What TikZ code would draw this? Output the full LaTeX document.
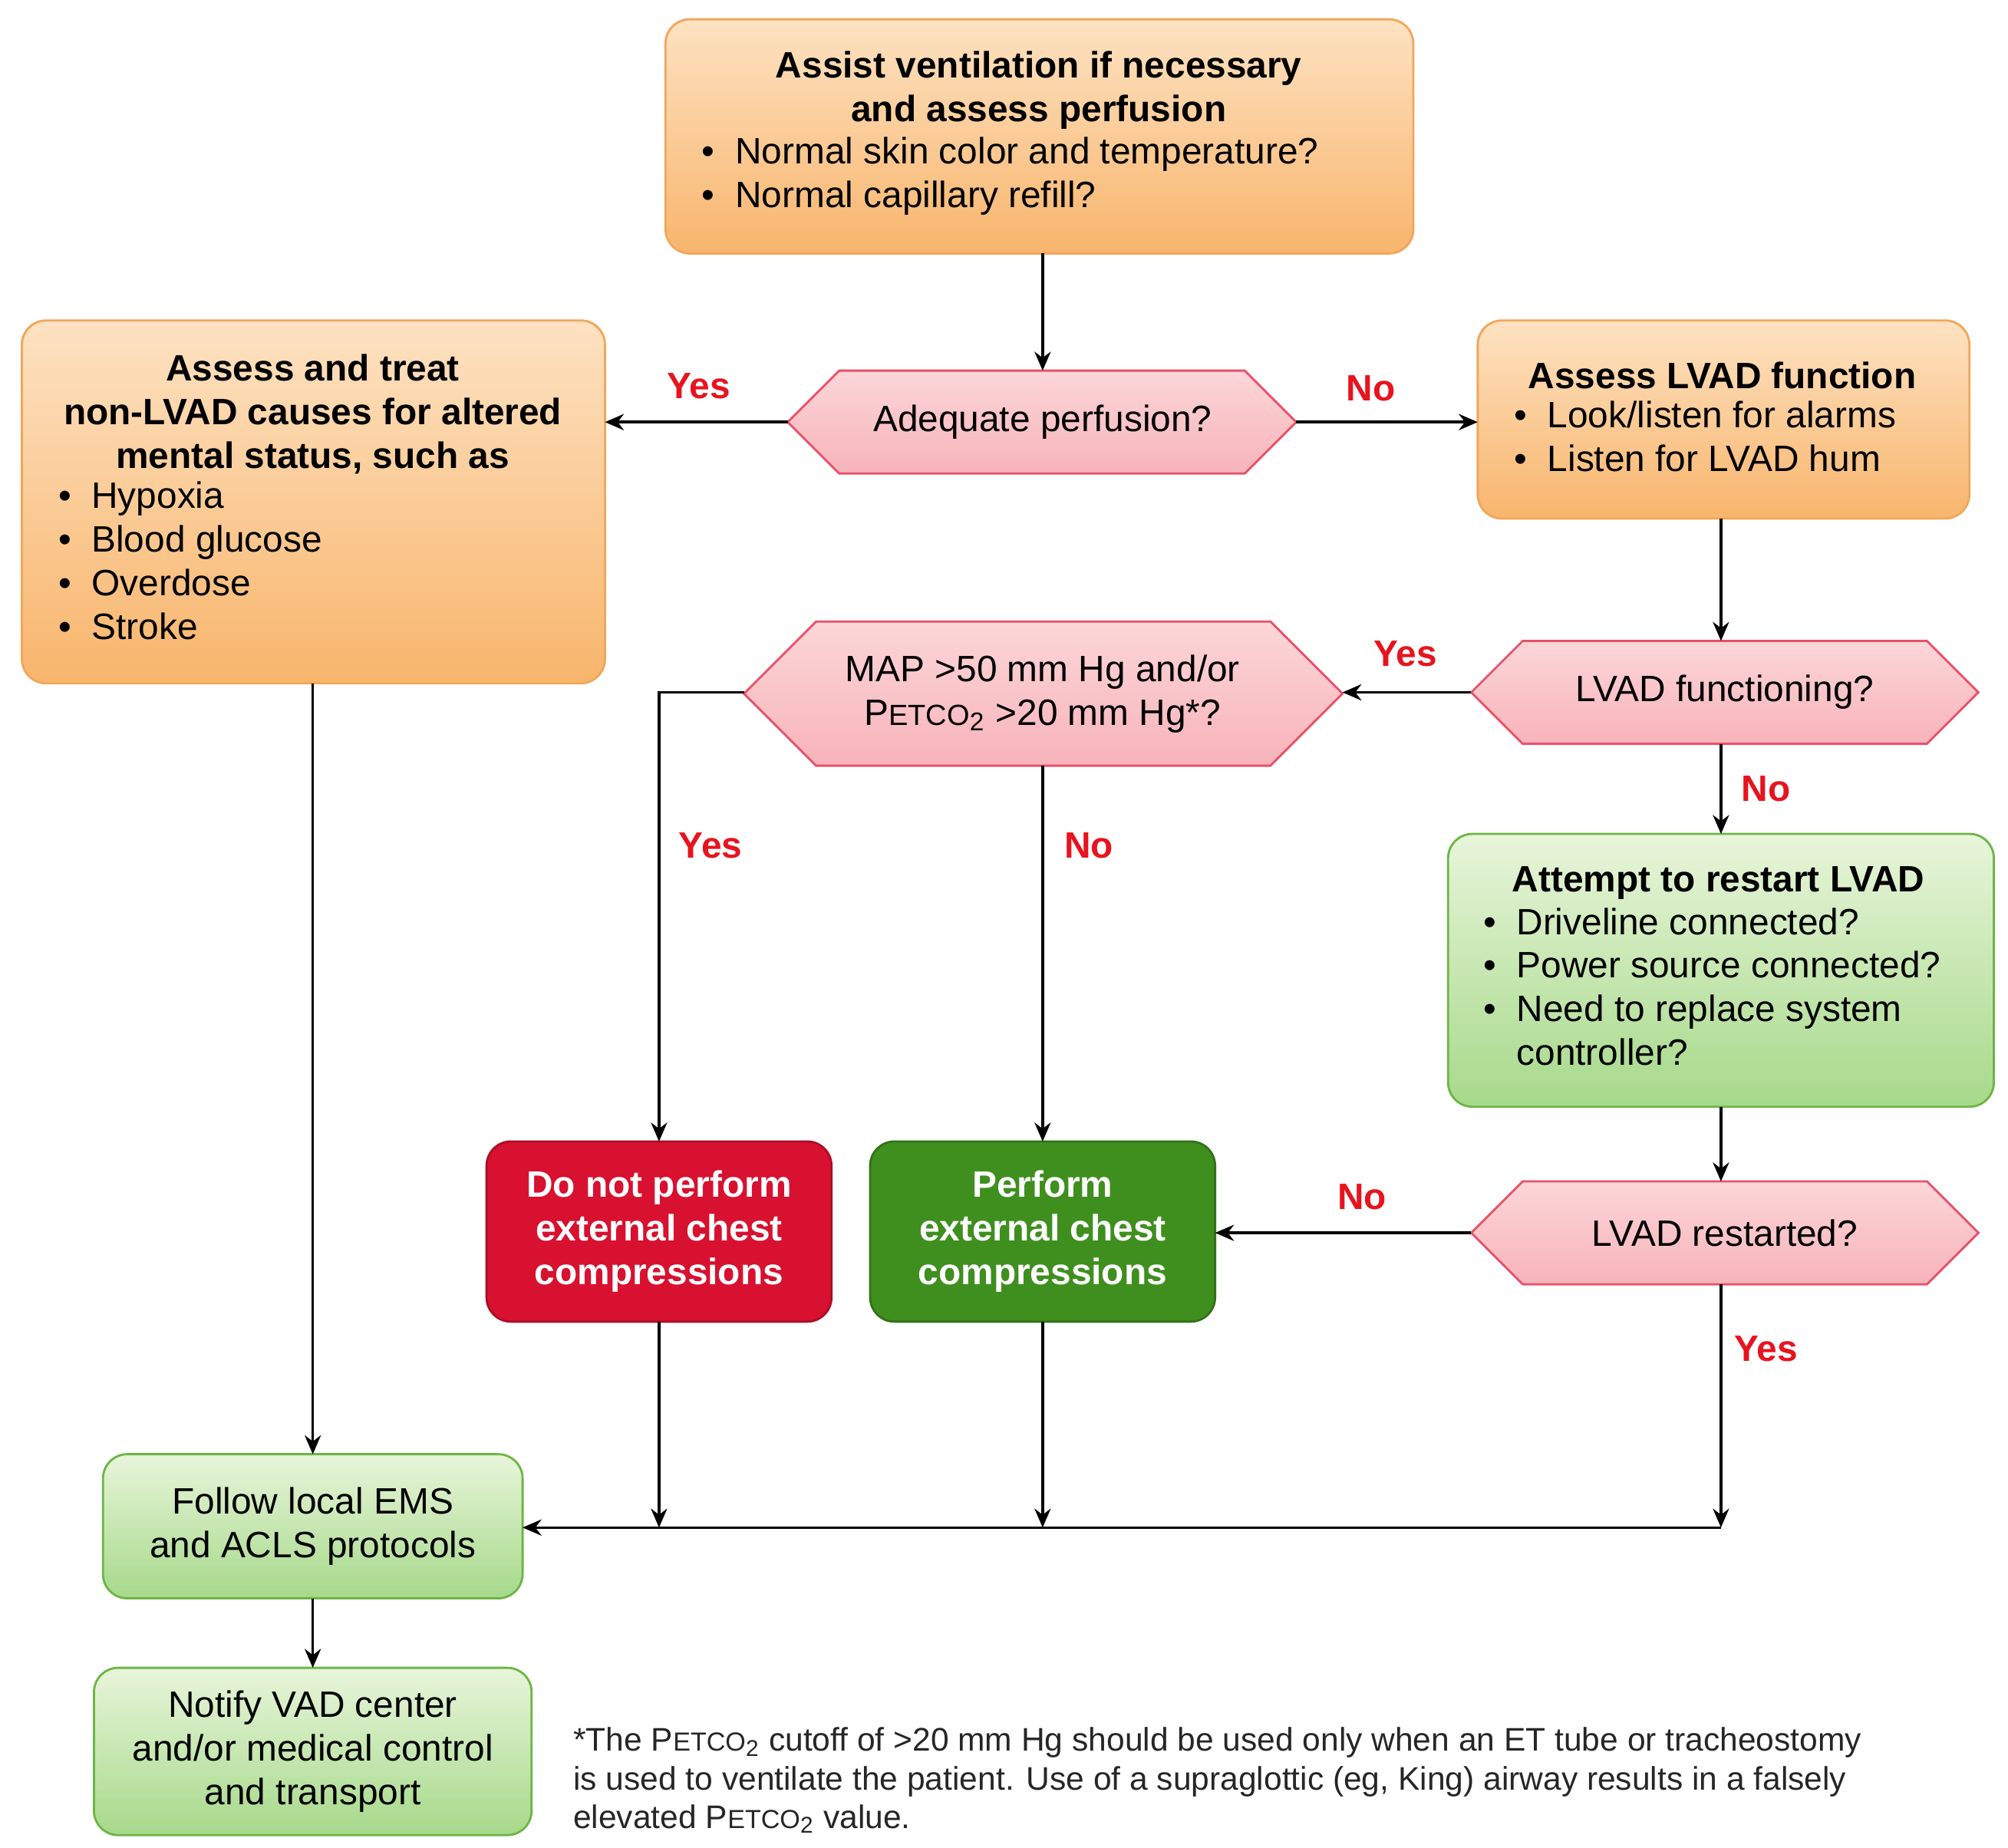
\documentclass[tikz,border=0pt]{standalone}
\usepackage{fontspec}
\setmainfont{Liberation Sans}
\usetikzlibrary{arrows.meta}
\definecolor{ornT}{HTML}{FDE2C2}\definecolor{ornB}{HTML}{F8B56C}\definecolor{ornD}{HTML}{F2A65A}
\definecolor{pkT}{HTML}{FCD6D8}\definecolor{pkB}{HTML}{F7B3BA}\definecolor{pkD}{HTML}{E8506A}
\definecolor{gnT}{HTML}{E8F5DA}\definecolor{gnB}{HTML}{A6D98A}\definecolor{gnD}{HTML}{6DB545}
\definecolor{redbox}{HTML}{D7112F}\definecolor{dgreen}{HTML}{3F8F1F}\definecolor{lab}{HTML}{E8131E}
\newcommand{\petco}{P{\fontsize{10.8}{12}\selectfont ETCO}\textsubscript{2}}
\newcommand{\petcos}{P{\fontsize{9.7}{11}\selectfont ETCO}\textsubscript{2}}
\begin{document}
\begin{tikzpicture}[x=0.016776cm,y=-0.016776cm,
  every node/.style={font=\fontsize{13.6}{16.2}\selectfont, inner sep=0pt},
  bf/.style={font=\fontsize{13.6}{16.2}\selectfont\bfseries},
  obox/.style={draw=ornD, line width=0.8pt, rounded corners=9pt, top color=ornT, bottom color=ornB},
  gbox/.style={draw=gnD, line width=0.8pt, rounded corners=9pt, top color=gnT, bottom color=gnB},
  hex/.style={draw=pkD, line width=0.8pt, top color=pkT, bottom color=pkB},
  arr/.style={-{Stealth[length=7pt,width=6pt]}, line width=1pt},
  lbl/.style={text=lab, font=\fontsize{13.6}{16}\selectfont\bfseries}]
\useasboundingbox (0,0) rectangle (1560,1436);
% boxes
\draw[obox] (517,15) rectangle (1098,197);
\node[align=center,bf] (t1) at (807,70) {Assist ventilation if necessary\\and assess perfusion};
\node[align=left,anchor=north west] (t1b) at (545,106) {\textbullet\ \ Normal skin color and temperature?\\\textbullet\ \ Normal capillary refill?};
\coordinate (top) at (810,197);
\draw[obox] (17,249) rectangle (470,531);
\node[align=center,bf] (l1) at (243,322) {Assess and treat\\non-LVAD causes for altered\\mental status, such as};
\node[align=left,anchor=north west] (l1b) at (45,374) {\textbullet\ \ Hypoxia\\\textbullet\ \ Blood glucose\\\textbullet\ \ Overdose\\\textbullet\ \ Stroke};
\draw[obox] (1148,249) rectangle (1530,403);
\node[bf] (r1) at (1338,292) {Assess LVAD function};
\node[align=left,anchor=north west] (r1b) at (1176,311) {\textbullet\ \ Look/listen for alarms\\\textbullet\ \ Listen for LVAD hum};
\draw[gbox] (1125,648) rectangle (1549,860);
\node[bf] (g1) at (1335,686) {Attempt to restart LVAD};
\node[align=left,anchor=north west] (g1b) at (1152,705) {\textbullet\ \ Driveline connected?\\\textbullet\ \ Power source connected?\\\textbullet\ \ Need to replace system\\\phantom{\textbullet\ \ }controller?};
\draw[line width=0.8pt, draw=redbox!80!black, fill=redbox, rounded corners=9pt] (378,887) rectangle (646,1027);
\node[align=center,text=white,bf] (dn) at (512,957) {Do not perform\\external chest\\compressions};
\draw[line width=0.8pt, draw=dgreen!80!black, fill=dgreen, rounded corners=9pt] (676,887) rectangle (944,1027);
\node[align=center,text=white,bf] (pf) at (810,957) {Perform\\external chest\\compressions};
\draw[gbox] (80,1130) rectangle (406,1242);
\node[align=center] (fl) at (243,1186) {Follow local EMS\\and ACLS protocols};
\draw[gbox] (73,1296) rectangle (413,1426);
\node[align=center] (nt) at (243,1361) {Notify VAD center\\and/or medical control\\and transport};
% hexagons
\draw[hex] (612,328) -- (652,288) -- (967,288) -- (1007,328) -- (967,368) -- (652,368) -- cycle;
\node (d1) at (810,328) {Adequate perfusion?};
\draw[hex] (578,539) -- (634,483) -- (987,483) -- (1043,539) -- (987,595) -- (634,595) -- cycle;
\node[align=center] (d2) at (810,539) {MAP >50 mm Hg and/or\\\petco\ >20 mm Hg*?};
\draw[hex] (1143,538) -- (1183,498) -- (1497,498) -- (1537,538) -- (1497,578) -- (1183,578) -- cycle;
\node (d3) at (1340,538) {LVAD functioning?};
\draw[hex] (1143,958) -- (1183,918) -- (1497,918) -- (1537,958) -- (1497,998) -- (1183,998) -- cycle;
\node (d4) at (1340,958) {LVAD restarted?};
% connectors
\coordinate (a1) at (810,288);
\draw[arr] (top) -- (a1);
\coordinate (y1s) at (612,328); \coordinate (y1e) at (470,328);
\draw[arr] (y1s) -- (y1e); \node[lbl] (ly1) at (543,300) {Yes};
\coordinate (n1s) at (1007,328); \coordinate (n1e) at (1148,328);
\draw[arr] (n1s) -- (n1e); \node[lbl] (ln1) at (1065,302) {No};
\coordinate (r1s) at (1337,403); \coordinate (r1e) at (1337,498);
\draw[arr] (r1s) -- (r1e);
\coordinate (y2s) at (1143,538); \coordinate (y2e) at (1043,538);
\draw[arr] (y2s) -- (y2e); \node[lbl] (ly2) at (1092,508) {Yes};
\coordinate (n2s) at (1337,578); \coordinate (n2e) at (1337,648);
\draw[arr] (n2s) -- (n2e); \node[lbl] (ln2) at (1372,613) {No};
\coordinate (y3s) at (578,538); \coordinate (y3e) at (512,887);
\draw[arr] (y3s) -| (y3e); \node[lbl] (ly3) at (552,657) {Yes};
\coordinate (n3s) at (810,595); \coordinate (n3e) at (810,887);
\draw[arr] (n3s) -- (n3e); \node[lbl] (ln3) at (846,657) {No};
\coordinate (g1s) at (1337,860); \coordinate (g1e) at (1337,918);
\draw[arr] (g1s) -- (g1e);
\coordinate (n4s) at (1143,958); \coordinate (n4e) at (944,958);
\draw[arr] (n4s) -- (n4e); \node[lbl] (ln4) at (1058,930) {No};
\coordinate (y4s) at (1337,998); \coordinate (j3) at (1337,1187);
\draw[arr] (y4s) -- (j3); \node[lbl] (ly4) at (1372,1048) {Yes};
\coordinate (j1) at (512,1187); \coordinate (j2) at (810,1187);
\coordinate (dnb) at (512,1027); \coordinate (pfb) at (810,1027);
\draw[arr] (dnb) -- (j1); \draw[arr] (pfb) -- (j2);
\coordinate (fle) at (406,1187);
\draw[arr] (j3) -- (fle);
\coordinate (l1s) at (243,531); \coordinate (fltop) at (243,1130);
\draw[arr] (l1s) -- (fltop);
\coordinate (flb) at (243,1242); \coordinate (ntt) at (243,1296);
\draw[arr] (flb) -- (ntt);
% footnote
\node[align=left,anchor=north west,font=\fontsize{12.1}{14.3}\selectfont,text=black!85] (fn) at (445,1342) {*The \petcos\ cutoff of >20 mm Hg should be used only when an ET tube or tracheostomy\\is used to ventilate the patient. Use of a supraglottic (eg, King) airway results in a falsely\\elevated \petcos\ value.};
\end{tikzpicture}
\end{document}
